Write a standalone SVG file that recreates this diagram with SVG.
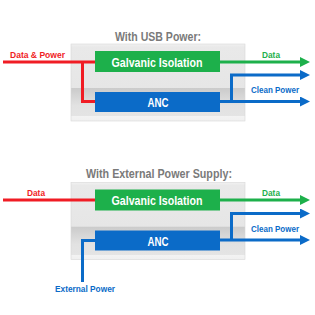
<svg xmlns="http://www.w3.org/2000/svg" width="315" height="315" viewBox="0 0 315 315">
<defs>
<linearGradient id="gbox" x1="0" y1="0" x2="0" y2="1">
<stop offset="0" stop-color="#f1f1f1"/>
<stop offset="0.04" stop-color="#e9e9e9"/>
<stop offset="0.57" stop-color="#e6e6e6"/>
<stop offset="0.575" stop-color="#cbcbcb"/>
<stop offset="0.80" stop-color="#e2e2e2"/>
<stop offset="0.935" stop-color="#e4e4e4"/>
<stop offset="0.94" stop-color="#f3f3f3"/>
<stop offset="1" stop-color="#f0f0f0"/>
</linearGradient>
<marker id="ag" viewBox="0 0 10 10" refX="1" refY="5" markerWidth="10" markerHeight="10" markerUnits="userSpaceOnUse" orient="auto">
<path d="M0,0 L10,5 L0,10 Z" fill="#1db04b"/>
</marker>
<marker id="ab" viewBox="0 0 10 10" refX="1" refY="5" markerWidth="10" markerHeight="10" markerUnits="userSpaceOnUse" orient="auto">
<path d="M0,0 L10,5 L0,10 Z" fill="#0b6bc8"/>
</marker>
</defs>
<style>
text{font-family:"Liberation Sans",Arial,sans-serif;font-weight:bold}
.title{font-size:12.5px;fill:#7a7a7a;text-anchor:middle}
.box{font-size:13px;fill:#ffffff;text-anchor:middle}
.lbl{font-size:9px}
.frame{fill:url(#gbox);stroke:#d8d8d8;stroke-width:0.6}
.gi{fill:#1db04b}
.anc{fill:#0b6bc8}
.r{stroke:#f01c24;stroke-width:3;fill:none}
.g{stroke:#1db04b;stroke-width:3;fill:none}
.b{stroke:#0b6bc8;stroke-width:3;fill:none}
</style>

<g id="usb-frame">
<text class="title" x="158" y="41" textLength="86" lengthAdjust="spacingAndGlyphs">With USB Power:</text>
<rect class="frame" x="71" y="44" width="174" height="77"/>
</g>
<g id="usb-galvanic">
<rect class="gi" x="95" y="51" width="125" height="21"/>
<text class="box" x="157" y="66.5" textLength="91" lengthAdjust="spacingAndGlyphs">Galvanic Isolation</text>
</g>
<g id="usb-anc">
<rect class="anc" x="95" y="92" width="125" height="20"/>
<text class="box" x="158" y="107" textLength="21" lengthAdjust="spacingAndGlyphs">ANC</text>
</g>

<g id="ext-frame">
<text class="title" x="159" y="178" textLength="146" lengthAdjust="spacingAndGlyphs">With External Power Supply:</text>
<rect class="frame" x="71" y="182.5" width="174" height="77"/>
</g>
<g id="ext-galvanic">
<rect class="gi" x="95" y="189.5" width="125" height="21"/>
<text class="box" x="157" y="205" textLength="91" lengthAdjust="spacingAndGlyphs">Galvanic Isolation</text>
</g>
<g id="ext-anc">
<rect class="anc" x="95" y="230.5" width="125" height="20"/>
<text class="box" x="158" y="245.5" textLength="21" lengthAdjust="spacingAndGlyphs">ANC</text>
</g>

<g id="connectors">
<path class="r" d="M3,62 H95 M82.5,62 V101.5 H95"/>
<path class="g" d="M220,62 H301" marker-end="url(#ag)"/>
<path class="b" d="M220,101.5 H301" marker-end="url(#ab)"/>
<path class="b" d="M231.5,101.5 V75 H301" marker-end="url(#ab)"/>
<text class="lbl" x="10" y="57.5" fill="#f01c24" textLength="55" lengthAdjust="spacingAndGlyphs">Data &amp; Power</text>
<text class="lbl" x="262" y="57.5" fill="#1db04b" textLength="18" lengthAdjust="spacingAndGlyphs">Data</text>
<text class="lbl" x="251" y="93" fill="#0b6bc8" textLength="48" lengthAdjust="spacingAndGlyphs">Clean Power</text>

<path class="r" d="M3,200 H95"/>
<path class="g" d="M220,200 H301" marker-end="url(#ag)"/>
<path class="b" d="M220,240 H301" marker-end="url(#ab)"/>
<path class="b" d="M231.5,240 V213.5 H301" marker-end="url(#ab)"/>
<path class="b" d="M82.5,282 V240.5 H95"/>
<text class="lbl" x="27" y="196" fill="#f01c24" textLength="18" lengthAdjust="spacingAndGlyphs">Data</text>
<text class="lbl" x="262" y="196" fill="#1db04b" textLength="18" lengthAdjust="spacingAndGlyphs">Data</text>
<text class="lbl" x="251" y="231.5" fill="#0b6bc8" textLength="48" lengthAdjust="spacingAndGlyphs">Clean Power</text>
<text class="lbl" x="55" y="292" fill="#0b6bc8" textLength="60" lengthAdjust="spacingAndGlyphs">External Power</text>
</g>
</svg>
